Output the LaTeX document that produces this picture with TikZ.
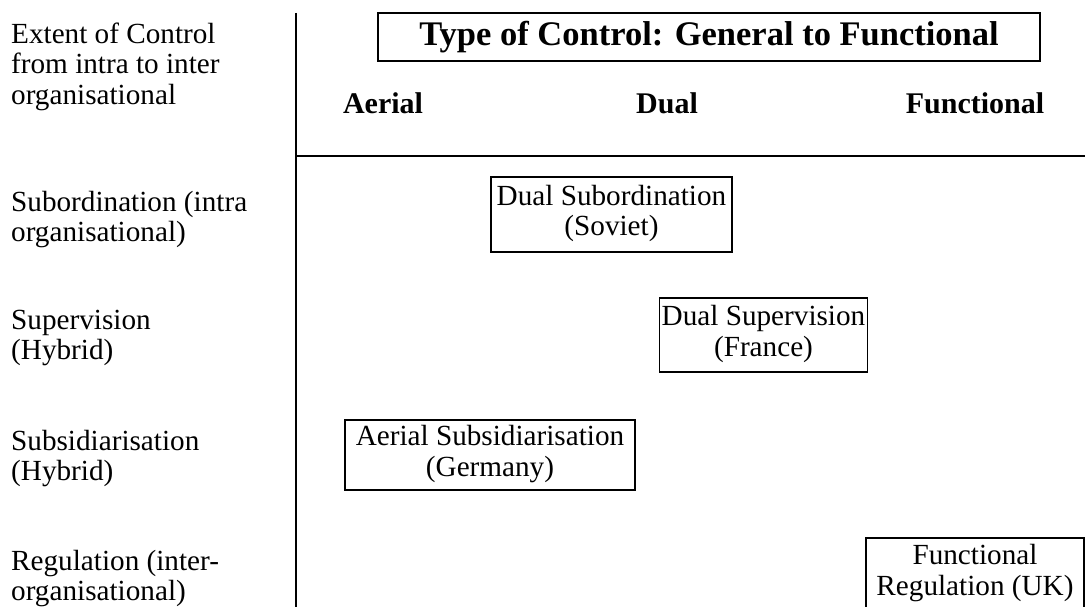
\documentclass[tikz,border=0pt]{standalone}
\usepackage{fontspec}
\setmainfont{Liberation Serif}
\begin{document}
\begin{tikzpicture}[x=1pt,y=-1pt,
  lbl/.style={anchor=north west, inner sep=0pt, align=left, font=\fontsize{29.2}{30.5}\selectfont},
  cell/.style={draw, line width=1.8pt, inner sep=0pt, align=center, font=\fontsize{29.2}{30.5}\selectfont},
  head/.style={anchor=base, inner sep=0pt, font=\fontsize{30}{34}\selectfont\bfseries},
  rulel/.style={line width=1.8pt}]
\useasboundingbox (0,0) rectangle (1085,607);
\coordinate (vtop) at (296,13);
\coordinate (vbot) at (296,607);
\coordinate (hl) at (296,156);
\coordinate (hr) at (1085,156);
\draw[rulel] (vtop) -- (vbot);
\draw[rulel] (hl) -- (hr);
\node[draw, line width=1.8pt, minimum width=662pt, minimum height=48pt, inner sep=0pt,
  font=\fontsize{34.5}{38}\selectfont\bfseries] (title) at (709,37) {Type of Control: General to Functional};
\node[head] (aerial) at (383,114) {Aerial};
\node[head] (dual) at (667,114) {Dual};
\node[head] (functional) at (975,114) {Functional};
\node[lbl] (extent) at (11,21.65) {\strut Extent of Control\\\strut from intra to inter\\\strut organisational};
\node[lbl] (subord) at (11,189.65) {\strut Subordination (intra\\\strut organisational)};
\node[lbl] (superv) at (11,307.65) {\strut Supervision\\\strut (Hybrid)};
\node[lbl] (subsid) at (11,428.65) {\strut Subsidiarisation\\\strut (Hybrid)};
\node[lbl] (regul) at (11,548.65) {\strut Regulation (inter-\\\strut organisational)};
\node[cell, minimum width=241pt, minimum height=75pt] (soviet) at (611.5,214.5) {\strut Dual Subordination\\\strut (Soviet)};
\node[cell, minimum width=208pt, minimum height=74pt] (france) at (763.5,335) {\strut Dual Supervision\\\strut (France)};
\node[cell, minimum width=290pt, minimum height=70pt] (germany) at (490,455) {\strut Aerial Subsidiarisation\\\strut (Germany)};
\node[cell, minimum width=218pt, minimum height=72pt] (uk) at (975,574) {\strut Functional\\\strut Regulation (UK)};
\end{tikzpicture}
\end{document}
